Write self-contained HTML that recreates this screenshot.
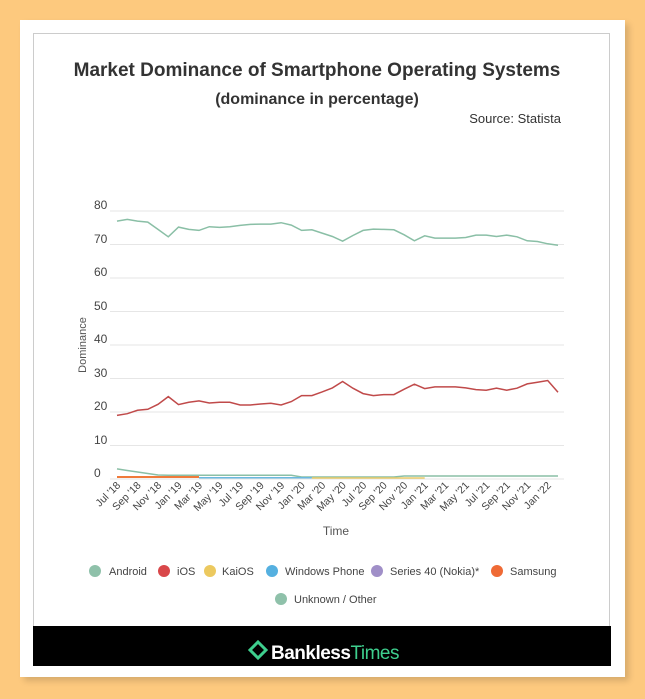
<!DOCTYPE html>
<html><head><meta charset="utf-8"><style>
body{margin:0;width:645px;height:699px;background:#fdc97e;font-family:"Liberation Sans",sans-serif;position:relative;overflow:hidden}
.card{position:absolute;left:20px;top:20px;width:605px;height:657px;background:#fff;box-shadow:4px 4px 6px rgba(0,0,0,0.15)}
.inner{position:absolute;left:33px;top:33px;width:577px;height:632px;border:1px solid #ccc;box-sizing:border-box}
.foot{position:absolute;left:33px;top:626px;width:578px;height:40px;background:#000}
</style></head><body>
<div class="card"></div><div class="inner"></div>
<div class="foot"></div>
<svg width="645" height="699" style="position:absolute;left:0;top:0">
<text x="317" y="76" text-anchor="middle" font-size="19" font-weight="bold" fill="#333">Market Dominance of Smartphone Operating Systems</text>
<text x="317" y="104" text-anchor="middle" font-size="16" font-weight="bold" fill="#333">(dominance in percentage)</text>
<text x="561" y="123" text-anchor="end" font-size="13" fill="#333">Source: Statista</text>
<g stroke="#e6e6e6" stroke-width="1">
<line x1="110" x2="564" y1="211" y2="211"/><line x1="110" x2="564" y1="244.5" y2="244.5"/><line x1="110" x2="564" y1="278" y2="278"/><line x1="110" x2="564" y1="311.5" y2="311.5"/><line x1="110" x2="564" y1="345" y2="345"/><line x1="110" x2="564" y1="378.5" y2="378.5"/><line x1="110" x2="564" y1="412" y2="412"/><line x1="110" x2="564" y1="445.5" y2="445.5"/><line x1="110" x2="564" y1="479" y2="479"/>
</g>
<g font-size="12" fill="#444">
<text x="94" y="209">80</text><text x="94" y="243">70</text><text x="94" y="276">60</text><text x="94" y="310">50</text><text x="94" y="343">40</text><text x="94" y="377">30</text><text x="94" y="410">20</text><text x="94" y="444">10</text><text x="94" y="477">0</text>
</g>
<text transform="translate(86,345) rotate(-90)" text-anchor="middle" font-size="11" fill="#555">Dominance</text>
<text x="336" y="535" text-anchor="middle" font-size="12" fill="#555">Time</text>
<g id="xl" font-size="10.5" fill="#444"></g>
<polyline id="and" fill="none" stroke="#8abfa6" stroke-width="1.5"/>
<polyline id="ios" fill="none" stroke="#c04a4a" stroke-width="1.5"/>
<polyline id="oth" fill="none" stroke="#8abfa6" stroke-width="1.5"/>
<polyline id="sam" fill="none" stroke="#f07a3a" stroke-width="2"/>
<polyline id="win" fill="none" stroke="#6ab8df" stroke-width="1.5"/>
<polyline id="kai" fill="none" stroke="#eacb6a" stroke-width="1.5"/>
<g font-size="11" fill="#444">
<circle cx="95" cy="571" r="6" fill="#8fc1aa"/><text x="109" y="575">Android</text>
<circle cx="164" cy="571" r="6" fill="#d9474a"/><text x="177" y="575">iOS</text>
<circle cx="210" cy="571" r="6" fill="#ecc95f"/><text x="222" y="575">KaiOS</text>
<circle cx="272" cy="571" r="6" fill="#55b0e0"/><text x="285" y="575">Windows Phone</text>
<circle cx="377" cy="571" r="6" fill="#a08fc8"/><text x="390" y="575">Series 40 (Nokia)*</text>
<circle cx="497" cy="571" r="6" fill="#ef6a35"/><text x="510" y="575">Samsung</text>
<circle cx="281" cy="599" r="6" fill="#8fc1aa"/><text x="294" y="603">Unknown / Other</text>
</g>
<g transform="translate(250,642)"><path d="M8 0 L16 8 L8 16 L0 8 Z" fill="none" stroke="#3ecf8e" stroke-width="3"/></g>
<text x="271" y="659" font-size="19" font-weight="bold" fill="#fff" letter-spacing="-0.5">Bankless<tspan fill="#3ecf8e" font-weight="normal">Times</tspan></text>
</svg>
<script>
const A=[77,77.5,77,76.7,74.5,72.3,75.2,74.5,74.2,75.3,75.1,75.3,75.7,76,76.1,76.1,76.5,75.8,74.2,74.4,73.4,72.4,71,72.7,74.2,74.6,74.5,74.4,72.9,71.1,72.6,71.9,71.9,71.9,72.1,72.8,72.8,72.4,72.8,72.3,71.1,70.9,70.2,69.8];
const I=[19,19.5,20.5,20.8,22.3,24.6,22.2,22.9,23.3,22.7,22.9,22.9,22.1,22.1,22.4,22.6,22.1,23.1,24.9,24.9,26,27.2,29.1,27.1,25.5,24.9,25.2,25.2,26.8,28.3,27,27.5,27.5,27.5,27.2,26.7,26.5,27.1,26.5,27.1,28.4,28.9,29.4,25.9];
const n=A.length,x0=117,x1=558;
const X=i=>x0+(x1-x0)*i/(n-1),Y=v=>479-v*3.35;
const pts=f=>Array.from({length:n},(_,i)=>X(i).toFixed(1)+","+Y(f(i)).toFixed(1)).join(" ");
document.getElementById("and").setAttribute("points",pts(i=>A[i]));
document.getElementById("ios").setAttribute("points",pts(i=>I[i]));
document.getElementById("oth").setAttribute("points",pts(i=>i<5?3-i*0.45:(i<18?1.1:(i<28?0.6:0.9))));
document.getElementById("sam").setAttribute("points",Array.from({length:9},(_,i)=>X(i).toFixed(1)+","+Y(0.6).toFixed(1)).join(" "));
document.getElementById("win").setAttribute("points",Array.from({length:12},(_,i)=>X(i+8).toFixed(1)+","+Y(0.4).toFixed(1)).join(" "));
document.getElementById("kai").setAttribute("points",Array.from({length:12},(_,i)=>X(i+19).toFixed(1)+","+Y(0.3).toFixed(1)).join(" "));
const L=["Jul '18","Sep '18","Nov '18","Jan '19","Mar '19","May '19","Jul '19","Sep '19","Nov '19","Jan '20","Mar '20","May '20","Jul '20","Sep '20","Nov '20","Jan '21","Mar '21","May '21","Jul '21","Sep '21","Nov '21","Jan '22"];
let g=document.getElementById("xl"),h="";
L.forEach((t,k)=>{const x=X(k*2)+4,y=486;h+=`<text transform="translate(${x},${y}) rotate(-45)" text-anchor="end">${t}</text>`});
g.innerHTML=h;
</script>
</body></html>
